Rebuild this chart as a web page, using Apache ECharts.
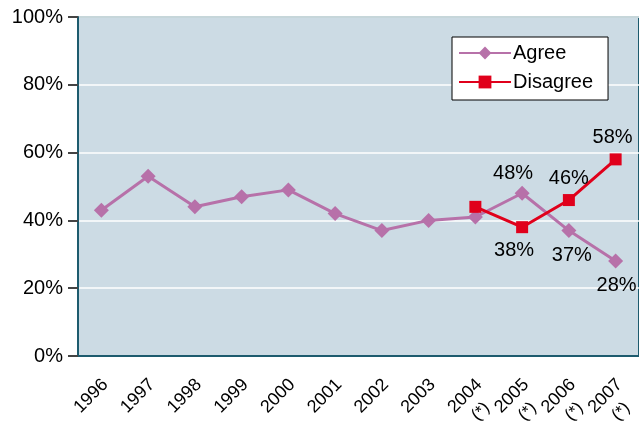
<!DOCTYPE html>
<html>
<head>
<meta charset="utf-8">
<script src="https://cdn.jsdelivr.net/npm/echarts@6/dist/echarts.min.js"></script>
<style>
  html, body { margin: 0; padding: 0; background: #fff; }
  #chart { width: 639px; height: 422px; }
</style>
</head>
<body>
<div id="chart"></div>
<script>
const years = ['1996', '1997', '1998', '1999', '2000', '2001', '2002', '2003', '2004', '2005', '2006', '2007']
const notes = ['', '', '', '', '', '', '', '', '(*)', '(*)', '(*)', '(*)']
const agree = [43, 53, 44, 47, 49, 42, 37, 40, 41, 48, 37, 28]
const disagree = [null, null, null, null, null, null, null, null, 44, 38, 46, 58]

// where each value label sits, by category index
const agreeLabels = { 9: 'top', 10: 'bottom', 11: 'bottom' }
const disagreeLabels = { 9: 'bottom', 10: 'top', 11: 'top' }
const agreeShift = { 9: [-9, 4], 10: [3, 0], 11: [1, 0] }
const disagreeShift = { 9: [-8, 0], 10: [0, 0], 11: [-3, 0] }

const font = 'Liberation Sans, Arial, sans-serif'

const withLabels = (values, positions, shifts) =>
  values.map((v, i) => {
    if (positions[i] === undefined) return v
    return {
      value: v,
      label: {
        show: true,
        position: positions[i],
        distance: positions[i] === 'top' ? 6 : 7,
        formatter: '{c}%',
        color: '#000',
        fontSize: 20,
        fontFamily: font,
        offset: shifts[i]
      }
    }
  })

const chart = echarts.init(document.getElementById('chart'))
chart.setOption({
  animation: false,
  textStyle: { fontFamily: font },
  grid: {
    left: 78, right: 0, top: 17, bottom: 66,
    outerBoundsMode: 'none',
    containLabel: false,
    show: true,
    backgroundColor: '#ccdbe4',
    borderColor: '#1d5b6e',
    borderWidth: 2
  },
  legend: {
    top: 37, left: 452,
    orient: 'vertical',
    backgroundColor: '#fff',
    borderColor: '#000',
    borderWidth: 1,
    borderRadius: 0,
    padding: [4, 15, 6, 6],
    itemGap: 5,
    itemWidth: 52,
    itemHeight: 16,
    textStyle: { fontSize: 20, lineHeight: 24, color: '#000', fontFamily: font, padding: [0, 0, 0, -3] },
    data: ['Agree', 'Disagree']
  },
  xAxis: {
    type: 'category',
    data: years,
    boundaryGap: true,
    axisLine: { lineStyle: { color: '#1d5b6e', width: 2 } },
    axisTick: { alignWithLabel: true, length: 10, lineStyle: { color: '#444', width: 2 } },
    axisLabel: {
      rotate: 45, interval: 0, margin: 22, color: '#000', fontFamily: font,
      padding: [33, 0, 0, 0],
      formatter: (v, i) => '{y|' + v + '}\n{s|' + (notes[i] || ' ') + '}',
      rich: {
        y: { fontSize: 18, lineHeight: 22, color: '#000', fontFamily: font },
        s: { fontSize: 17, lineHeight: 22, color: '#000', fontFamily: font, align: 'center' }
      }
    }
  },
  yAxis: {
    type: 'value',
    min: 0, max: 100, interval: 20,
    axisLine: { show: true, lineStyle: { color: '#1d5b6e', width: 2 } },
    axisTick: { show: true, length: 10, lineStyle: { color: '#444', width: 2 } },
    axisLabel: { formatter: '{value}%', fontSize: 20, color: '#000', margin: 15, fontFamily: font },
    splitLine: { lineStyle: { color: '#ffffff', width: 1.5 } }
  },
  series: [
    {
      name: 'Agree',
      type: 'line',
      data: withLabels(agree, agreeLabels, agreeShift),
      symbol: 'diamond',
      symbolSize: 15,
      lineStyle: { color: '#b771a9', width: 3 },
      itemStyle: { color: '#b771a9' }
    },
    {
      name: 'Disagree',
      type: 'line',
      data: withLabels(disagree, disagreeLabels, disagreeShift),
      symbol: 'rect',
      symbolSize: 12,
      lineStyle: { color: '#e0001b', width: 3 },
      itemStyle: { color: '#e0001b' }
    }
  ]
})
</script>
</body>
</html>
